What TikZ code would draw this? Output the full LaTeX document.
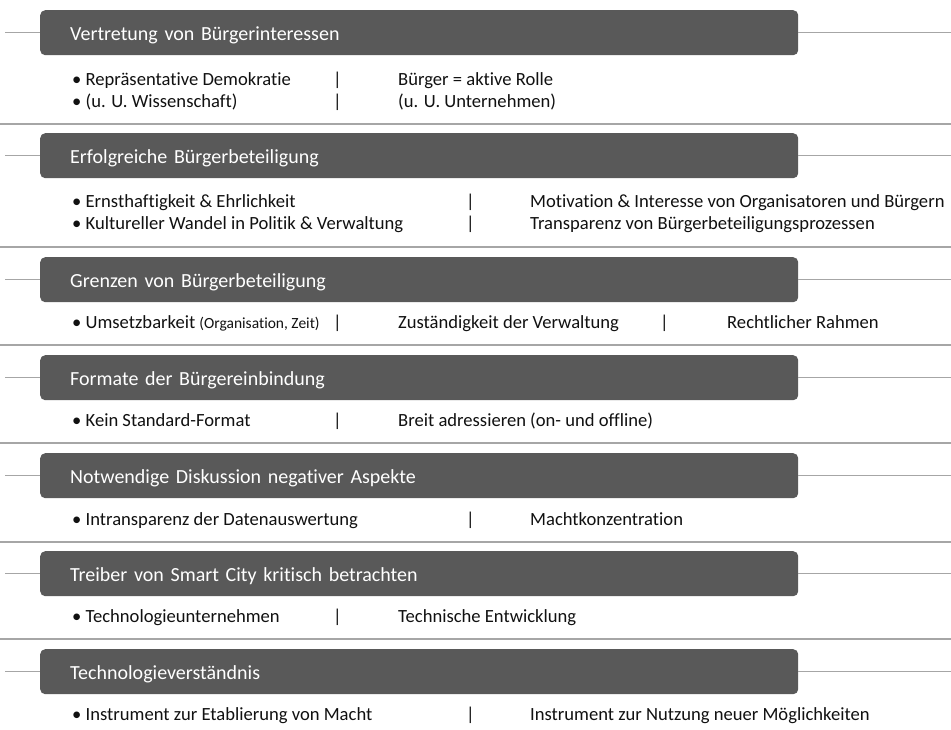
\documentclass[tikz,border=0pt]{standalone}
\usepackage{fontspec}
\setmainfont{Carlito}[Ligatures=NoCommon]
\usepackage{xcolor}
\usetikzlibrary{positioning}

\definecolor{bargray}{HTML}{595959}
\definecolor{rulegray}{HTML}{A6A6A6}
\definecolor{inkgray}{HTML}{111111}
\newcommand{\smallnote}[1]{{\fontsize{15.5}{17}\selectfont #1}}

\begin{document}
\begin{tikzpicture}[
    x=1pt, y=-1pt,
    bar/.style={
        rectangle,
        rounded corners=5pt,
        fill=bargray,
        text=white,
        anchor=north west,
        text width=698pt,
        text height=19pt,
        text depth=3pt,
        inner xsep=30pt,
        minimum height=45pt,
        align=left,
        font=\fontsize{20}{23}\selectfont
    },
    item/.style={
        anchor=base west,
        inner sep=0pt,
        text=inkgray,
        font=\fontsize{18.6}{21}\selectfont
    },
    rule/.style={
        draw=rulegray,
        line width=1.3pt
    },
    sep/.style={
        draw=rulegray,
        line width=1.6pt
    }
]
\useasboundingbox[fill=white] (0,0) rectangle (951,730);

% Header bars
\node[bar] (vertretung) at (40,10) {Vertretung von Bürgerinteressen};
\node[bar] (erfolg) at (40,133) {Erfolgreiche Bürgerbeteiligung};
\node[bar] (grenzen) at (40,257) {Grenzen von Bürgerbeteiligung};
\node[bar] (formate) at (40,355) {Formate der Bürgereinbindung};
\node[bar] (diskussion) at (40,453) {Notwendige Diskussion negativer Aspekte};
\node[bar] (treiber) at (40,551) {Treiber von Smart City kritisch betrachten};
\node[bar] (verstaendnis) at (40,649) {Technologieverständnis};

% Side rules
\foreach \b in {vertretung, erfolg, grenzen, formate, diskussion, treiber, verstaendnis} {
    \coordinate (\b-l) at (5,0 |- \b.west);
    \coordinate (\b-r) at (951,0 |- \b.east);
    \draw[rule] (\b-l) -- (\b.west);
    \draw[rule] (\b.east) -- (\b-r);
}

% Items
\node[item] (v1) at (72,86) {• Repräsentative Demokratie};
\node[item] (v1p) at (333,86) {|};
\node[item] (v1r) at (398,86) {Bürger = aktive Rolle};
\node[item] (v2) at (72,108) {• (u. U. Wissenschaft)};
\node[item] (v2p) at (333,108) {|};
\node[item] (v2r) at (398,108) {(u. U. Unternehmen)};

\node[item] (e1) at (72,208) {• Ernsthaftigkeit \& Ehrlichkeit};
\node[item] (e1p) at (466,208) {|};
\node[item] (e1r) at (530,208) {Motivation \& Interesse von Organisatoren und Bürgern};
\node[item] (e2) at (72,230) {• Kultureller Wandel in Politik \& Verwaltung};
\node[item] (e2p) at (466,230) {|};
\node[item] (e2r) at (530,230) {Transparenz von Bürgerbeteiligungsprozessen};

\node[item] (g1) at (72,328) {• Umsetzbarkeit \smallnote{(Organisation, Zeit)}};
\node[item] (g1p) at (333,328) {|};
\node[item] (g1r) at (398,328) {Zuständigkeit der Verwaltung};
\node[item] (g1q) at (660,328) {|};
\node[item] (g1s) at (727,328) {Rechtlicher Rahmen};

\node[item] (f1) at (72,426) {• Kein Standard-Format};
\node[item] (f1p) at (333,426) {|};
\node[item] (f1r) at (398,426) {Breit adressieren (on- und offline)};

\node[item] (d1) at (72,525) {• Intransparenz der Datenauswertung};
\node[item] (d1p) at (466,525) {|};
\node[item] (d1r) at (530,525) {Machtkonzentration};

\node[item] (t1) at (72,622) {• Technologieunternehmen};
\node[item] (t1p) at (333,622) {|};
\node[item] (t1r) at (398,622) {Technische Entwicklung};

\node[item] (i1) at (72,720) {• Instrument zur Etablierung von Macht};
\node[item] (i1p) at (466,720) {|};
\node[item] (i1r) at (530,720) {Instrument zur Nutzung neuer Möglichkeiten};

% Separators
\coordinate (s1a) at (0,124);   \coordinate (s1b) at (951,124);
\coordinate (s2a) at (0,247);   \coordinate (s2b) at (951,247);
\coordinate (s3a) at (0,345);   \coordinate (s3b) at (951,345);
\coordinate (s4a) at (0,443);   \coordinate (s4b) at (951,443);
\coordinate (s5a) at (0,542);   \coordinate (s5b) at (951,542);
\coordinate (s6a) at (0,639);   \coordinate (s6b) at (951,639);
\draw[sep] (s1a) -- (s1b);
\draw[sep] (s2a) -- (s2b);
\draw[sep] (s3a) -- (s3b);
\draw[sep] (s4a) -- (s4b);
\draw[sep] (s5a) -- (s5b);
\draw[sep] (s6a) -- (s6b);
\end{tikzpicture}
\end{document}
